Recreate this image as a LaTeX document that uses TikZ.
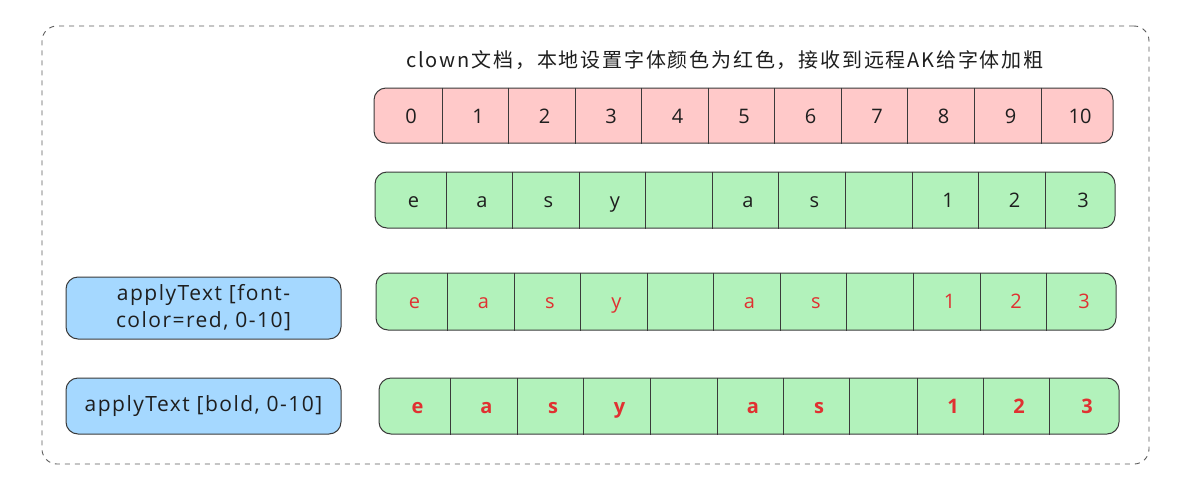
\documentclass[tikz,border=0pt]{standalone}
\usepackage{fontspec}
\setmainfont{Open Sans}
\newfontfamily\cjkfont[LetterSpace=9]{Noto Sans CJK SC}
\newfontfamily\opfont[LetterSpace=7]{Open Sans}
\definecolor{strokec}{HTML}{3A3A3A}
\definecolor{dashc}{HTML}{5A5A5A}
\definecolor{pinkf}{HTML}{FFC9C9}
\definecolor{greenf}{HTML}{B2F2BB}
\definecolor{bluef}{HTML}{A5D8FF}
\definecolor{redt}{HTML}{E03131}
\definecolor{ink}{HTML}{1E1E1E}
\tikzset{
  framebox/.style={draw=dashc, line width=0.9pt, dash pattern=on 5pt off 5pt, rounded corners=15pt, inner sep=0pt},
  rowbox/.style={draw=strokec, line width=1pt, rounded corners=12pt, inner sep=0pt},
  divider/.style={draw=strokec, line width=1pt},
  celltext/.style={inner sep=0pt, anchor=base, text=ink, font=\fontsize{20}{24}\selectfont},
  redtext/.style={celltext, text=redt},
  boldtext/.style={celltext, text=redt, font=\fontsize{20}{24}\selectfont\bfseries},
  opbox/.style={draw=strokec, line width=1pt, fill=bluef, rounded corners=12pt, align=center, text=ink, font=\opfont\fontsize{21}{27}\selectfont, inner sep=0pt},
}
\begin{document}
\begin{tikzpicture}[x=1pt,y=-1pt]
\useasboundingbox (0,0) rectangle (1185,490);

\node[framebox, minimum width=1107pt, minimum height=438pt] (frame) at (595.5,245) {};

\node[inner sep=0pt, text=ink, font=\cjkfont\fontsize{20}{24}\selectfont] (title) at (725,60) {clown文档，本地设置字体颜色为红色，接收到远程AK给字体加粗};

% Row 1: indices
\node[rowbox, fill=pinkf, minimum width=739pt, minimum height=55pt] (row1) at (743.5,115.5) {};
\foreach \d in {442,508,575,641,708,774,841,907,974,1041}
  \draw[divider] (\d,0 |- row1.north) -- (\d,0 |- row1.south);
\foreach \a/\b/\t [count=\i] in {374/442/0,442/508/1,508/575/2,575/641/3,641/708/4,708/774/5,774/841/6,841/907/7,907/974/8,974/1041/9,1041/1113/10}
  \node[celltext] (ra\i) at ({(\a+\b)/2+3},123) {\t};

% Row 2: plain text
\node[rowbox, fill=greenf, minimum width=740pt, minimum height=56pt] (row2) at (745,200) {};
\foreach \d in {446,512,579,645,712,778,845,912,978,1045}
  \draw[divider] (\d,0 |- row2.north) -- (\d,0 |- row2.south);
\foreach \a/\b/\t [count=\i] in {375/446/e,446/512/a,512/579/s,579/645/y,645/712/{},712/778/a,778/845/s,845/912/{},912/978/1,978/1045/2,1045/1115/3}
  \node[celltext] (rb\i) at ({(\a+\b)/2+3},207) {\t};

% Row 3: red text
\node[rowbox, fill=greenf, minimum width=740pt, minimum height=57pt] (row3) at (746,301.5) {};
\foreach \d in {447,514,580,647,713,780,846,913,980,1046}
  \draw[divider] (\d,0 |- row3.north) -- (\d,0 |- row3.south);
\foreach \a/\b/\t [count=\i] in {376/447/e,447/514/a,514/580/s,580/647/y,647/713/{},713/780/a,780/846/s,846/913/{},913/980/1,980/1046/2,1046/1116/3}
  \node[redtext] (rc\i) at ({(\a+\b)/2+3},308.5) {\t};

% Row 4: red bold text
\node[rowbox, fill=greenf, minimum width=740pt, minimum height=56pt] (row4) at (749,406) {};
\foreach \d in {450,517,583,650,717,783,849,917,983,1049}
  \draw[divider] (\d,0 |- row4.north) -- (\d,0 |- row4.south);
\foreach \a/\b/\t [count=\i] in {379/450/e,450/517/a,517/583/s,583/650/y,650/717/{},717/783/a,783/849/s,849/917/{},917/983/1,983/1049/2,1049/1119/3}
  \node[boldtext] (rd\i) at ({(\a+\b)/2+3},413) {\t};

% Operation boxes
\node[opbox, minimum width=275pt, minimum height=62pt] (op1) at (203.5,308) {applyText [font-\\color=red, 0-10]};
\node[opbox, minimum width=275pt, minimum height=56pt] (op2) at (203.5,406) {applyText [bold, 0-10]};
\end{tikzpicture}
\end{document}
